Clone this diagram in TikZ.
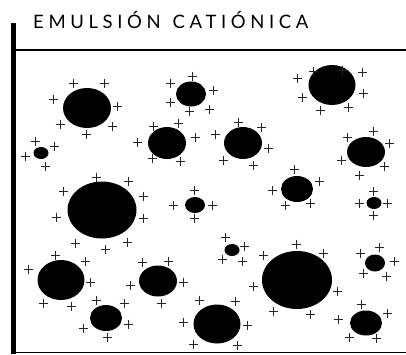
\documentclass[tikz,border=0pt]{standalone}
\usepackage{fontspec}
\newfontfamily\titlefont[LetterSpace=25]{Lato}
\tikzset{
  blob/.style={fill=black},
  plusline/.style={line width=1pt,black!85},
  plussign/.pic={\draw[plusline] (-4.5,0)--(4.5,0) (0,-4.5)--(0,4.5);},
  wall/.style={line width=5pt},
  rim/.style={line width=2pt},
}
\newcommand\pls[1]{\foreach \px/\py in {#1} {\pic at (\px,\py) {plussign};}}
\begin{document}
\begin{tikzpicture}[x=1pt,y=-1pt]
\useasboundingbox (0,0) rectangle (406,354);
\fill[white] (0,0) rectangle (406,354);
% container
\draw[wall] (13.5,23) -- (13.5,354);
\draw[rim] (16,50) -- (406,50);
\draw[line width=1.6pt] (16,352.5) -- (406,352.5);
% title
\node[anchor=base west,inner sep=0pt,font=\titlefont\fontsize{18.5}{18.5}\selectfont] (title) at (33,28) {EMULSIÓN\hspace{12pt}CATIÓNICA};
% A
\fill[blob] (87,108) ellipse [x radius=24,y radius=20];
\pls{73/83,104/83,53/99,117/106,60/124,112/126,86/134}
% B
\fill[blob] (191,94) ellipse [x radius=15,y radius=12.5];
\pls{192/76,170/83,213/90,170/102,189/111,209/109}
% C
\fill[blob] (332,85) ellipse [x radius=23.5,y radius=20];
\pls{313/71,342/70,362/72,297/78,302/97,363/93,320/110,348/107}
% D
\fill[blob] (41,153) ellipse [x radius=7.5,y radius=6];
\pls{35/141,54/146,25/156,45/166}
% E
\fill[blob] (167,143) ellipse [x radius=19,y radius=16];
\pls{153/126,178/123,137/142,195/137,152/158,180/161}
% F
\fill[blob] (243,143) ellipse [x radius=19,y radius=16];
\pls{238/122,261/127,215/134,268/148,223/160,253/165}
% G
\fill[blob] (366,152) ellipse [x radius=19,y radius=15];
\pls{347/137,373/131,389/143,341/160,384/166,359/175}
% H
\fill[blob] (102,210) ellipse [x radius=34.5,y radius=28.5];
\pls{96/177,128/181,63/191,143/196,56/217,143/218,75/243,127/242,105/249}
% I
\fill[blob] (195,205) ellipse [x radius=10,y radius=8];
\pls{194/190,173/205,212/205,194/218}
% J
\fill[blob] (297,189) ellipse [x radius=16,y radius=13];
\pls{294/169,319/181,272/190,285/205,310/203}
% K
\fill[blob] (374,203) ellipse [x radius=7.5,y radius=6];
\pls{373/191,359/203,387/203,373/215}
% L
\fill[blob] (232,250) ellipse [x radius=7.5,y radius=6];
\pls{225/237,244/246,222/259,242/261}
% M
\fill[blob] (61,280) ellipse [x radius=23.5,y radius=20];
\pls{55/255,85/261,28/269,90/282,43/303,71/306}
% N
\fill[blob] (158,281) ellipse [x radius=19,y radius=15.5];
\pls{142/262,168/261,130/285,183/282,161/303}
% O
\fill[blob] (106,318) ellipse [x radius=16,y radius=13];
\pls{96/300,124/303,83/328,128/324,107/337}
% P
\fill[blob] (217,324) ellipse [x radius=23.5,y radius=19.5];
\pls{199/300,235/301,183/322,247/325,193/344,237/345}
% Q
\fill[blob] (297,280) ellipse [x radius=35,y radius=29];
\pls{296/244,323/253,263/255,253/286,337/291,273/311,310/314}
% R
\fill[blob] (375,263) ellipse [x radius=10,y radius=8.5];
\pls{379/247,360/253,394/261,363/273,386/276}
% S
\fill[blob] (366,323) ellipse [x radius=16,y radius=12.5];
\pls{361/304,387/313,338/319,349/337,376/338}
\end{tikzpicture}
\end{document}
